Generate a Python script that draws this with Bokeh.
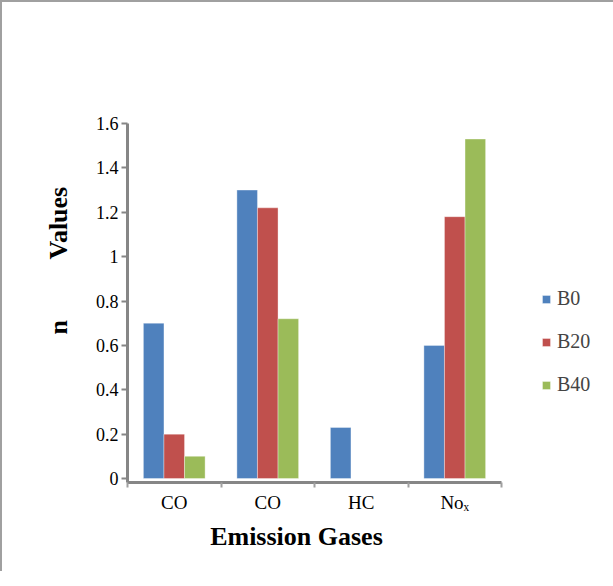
from bokeh.plotting import figure
from bokeh.models import (Range1d, FixedTicker, NumeralTickFormatter, CustomJSTickFormatter,
                          Legend, LegendItem, LinearAxis)
from bokeh.embed import file_html
from bokeh.resources import INLINE

categories = ["CO", "CO", "HC", "Noₓ"]
series_names = ["B0", "B20", "B40"]
b0 = [0.70, 1.30, 0.23, 0.60]
b20 = [0.20, 1.22, 0.0, 1.18]
b40 = [0.10, 0.72, 0.0, 1.53]
y_ticks = [0, 0.2, 0.4, 0.6, 0.8, 1.0, 1.2, 1.4, 1.6]
y_title_texts = ["n", "Values"]
x_title_text = "Emission Gases"
colors = ["#4F81BD", "#C0504D", "#9BBB59"]

FONT = "Liberation Serif"

p = figure(frame_width=374, frame_height=359, output_backend="svg", toolbar_location=None,
           x_range=Range1d(0, 4), y_range=Range1d(-0.018, 1.6),
           min_border_left=125, min_border_top=121, min_border_right=98, min_border_bottom=89)
p.background_fill_color = "white"
p.border_fill_color = "white"
p.outline_line_color = None
p.xgrid.visible = False
p.ygrid.visible = False
p.styles = {"border-top": "2px solid #a0a0a0", "border-left": "2px solid #a0a0a0"}

bar_w = 0.22
renderers = []
for j, vals in enumerate([b0, b20, b40]):
    xs = [i + 0.5 + (j - 1) * bar_w for i in range(len(categories))]
    r = p.vbar(x=xs, top=vals, bottom=0, width=bar_w, fill_color=colors[j],
               line_color="white", line_alpha=0.35, line_width=1)
    renderers.append(r)

# main y axis
ya = p.yaxis[0]
ya.ticker = FixedTicker(ticks=y_ticks, minor_ticks=[])
ya.formatter = NumeralTickFormatter(format="0.[0]")
ya.axis_line_color = "#868686"
ya.axis_line_width = 3
ya.major_tick_line_color = "#868686"
ya.major_tick_line_width = 2
ya.major_tick_out = 6
ya.major_tick_in = 0
ya.minor_tick_line_color = None
ya.major_label_text_font = FONT
ya.major_label_text_font_size = "18px"
ya.major_label_text_color = "black"
ya.major_label_standoff = 3

# y titles ("n" and "Values") as an extra left axis
yt = LinearAxis(ticker=FixedTicker(ticks=[0.682, 1.151], minor_ticks=[]),
                formatter=CustomJSTickFormatter(args=dict(labels=y_title_texts),
                                                code="return tick < 1 ? labels[0] : labels[1];"),
                axis_line_color=None, major_tick_line_color=None, minor_tick_line_color=None,
                major_label_orientation="vertical", major_label_standoff=13,
                major_label_text_font=FONT, major_label_text_font_style="bold",
                major_label_text_font_size="26px", major_label_text_color="black")
p.add_layout(yt, "left")

# main x axis
xa = p.xaxis[0]
xa.ticker = FixedTicker(ticks=[i + 0.5 for i in range(len(categories))],
                        minor_ticks=list(range(len(categories) + 1)))
xa.formatter = CustomJSTickFormatter(args=dict(labels=categories),
                                     code="return labels[Math.floor(tick)];")
xa.axis_line_color = "#868686"
xa.axis_line_width = 3
xa.major_tick_line_color = None
xa.minor_tick_line_color = "#a0a0a0"
xa.minor_tick_line_width = 2
xa.minor_tick_out = 5
xa.minor_tick_in = 0
xa.major_label_text_font = FONT
xa.major_label_text_font_size = "19px"
xa.major_label_text_color = "black"
xa.major_label_standoff = 3

# x title as an extra below axis
xt = LinearAxis(ticker=FixedTicker(ticks=[1.807], minor_ticks=[]),
                formatter=CustomJSTickFormatter(args=dict(label=x_title_text), code="return label;"),
                axis_line_color=None, major_tick_line_color=None, minor_tick_line_color=None,
                major_label_standoff=0,
                major_label_text_font=FONT, major_label_text_font_style="bold",
                major_label_text_font_size="26px", major_label_text_color="black")
p.add_layout(xt, "below")

legend = Legend(items=[LegendItem(label=n, renderers=[r]) for n, r in zip(series_names, renderers)],
                location=(40, 86), glyph_width=10, glyph_height=10, label_height=20,
                spacing=20, padding=0, margin=0, label_standoff=6,
                label_text_font=FONT, label_text_font_size="20px",
                border_line_color=None, background_fill_alpha=0)
p.add_layout(legend, "right")

open("out.html", "w").write(file_html(p, INLINE))
